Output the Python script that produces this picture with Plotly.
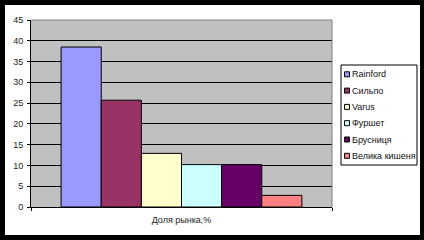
import plotly.graph_objects as go

category = ["Доля рынка,%"]
names = ["Rainford", "Сильпо", "Varus", "Фуршет", "Брусниця", "Велика кишеня"]
values = [38.5, 25.7, 12.9, 10.2, 10.2, 2.8]
colors = ["#9999FF", "#993366", "#FFFFCC", "#CCFFFF", "#660066", "#FF8080"]
y_ticks = [0, 5, 10, 15, 20, 25, 30, 35, 40, 45]

W, H = 424, 240
L, R, T, B = 31, 92, 20, 33
pw, ph = W - L - R, H - T - B

fig = go.Figure()
for n, v, c in zip(names, values, colors):
    fig.add_trace(go.Bar(x=category, y=[v], name=n,
                         marker=dict(color=c, line=dict(color="black", width=1))))


def px(x):
    return (x - L) / pw


def py(y):
    return (H - B - y) / ph


shapes = []
# black outer frame of the chart
for x0, x1, y0, y1 in [(0, 5, 0, H), (420, W, 0, H), (0, W, 0, 5), (0, W, 235, H)]:
    shapes.append(dict(type="rect", xref="paper", yref="paper",
                       x0=px(x0), x1=px(x1), y0=py(y1), y1=py(y0),
                       fillcolor="black", line=dict(width=0), layer="above"))
# grey plot-area border on top and right
shapes.append(dict(type="line", xref="paper", yref="paper", x0=0, x1=1, y0=1, y1=1,
                   line=dict(color="#808080", width=1), layer="above"))
shapes.append(dict(type="line", xref="paper", yref="paper", x0=1, x1=1, y0=0, y1=1,
                   line=dict(color="#808080", width=1), layer="above"))

# legend box (drawn by hand to match the compact Excel legend)
LX0, LX1, LY0, LY1 = 341, 417, 65, 165
shapes.append(dict(type="rect", xref="paper", yref="paper",
                   x0=px(LX0), x1=px(LX1), y0=py(LY1), y1=py(LY0),
                   fillcolor="white", line=dict(color="black", width=1), layer="above"))
annotations = []
row0, step, sym = 74.3, 16.3, 5
for i, (n, c) in enumerate(zip(names, colors)):
    cy = row0 + i * step
    shapes.append(dict(type="rect", xref="paper", yref="paper",
                       x0=px(344.5), x1=px(344.5 + sym), y0=py(cy + sym / 2), y1=py(cy - sym / 2),
                       fillcolor=c, line=dict(color="black", width=1), layer="above"))
    annotations.append(dict(xref="paper", yref="paper", x=px(349.5), y=py(cy),
                            xanchor="left", yanchor="middle", showarrow=False, text=n,
                            font=dict(size=9, color="#111")))

fig.update_layout(
    width=W, height=H,
    margin=dict(l=L, r=R, t=T, b=B, pad=0, autoexpand=False),
    paper_bgcolor="white",
    plot_bgcolor="#C0C0C0",
    barmode="group", bargap=0.2, bargroupgap=0,
    font=dict(family="Liberation Sans, Arial", size=10, color="black"),
    showlegend=False,
    shapes=shapes,
    annotations=annotations,
)
fig.update_yaxes(range=[0, 45], tickvals=y_ticks, showgrid=True, gridcolor="black", gridwidth=1,
                 showline=True, linecolor="black", linewidth=1, ticks="outside", ticklen=3,
                 tickcolor="black", zeroline=False, ticklabelstandoff=2,
                 tickfont=dict(size=9, color="#222"))
fig.update_xaxes(showline=True, linecolor="black", linewidth=1, ticks="outside", ticklen=3,
                 tickson="boundaries", tickcolor="black", ticklabelstandoff=4,
                 tickfont=dict(size=9, color="#222"))
fig.write_html("out.html")
